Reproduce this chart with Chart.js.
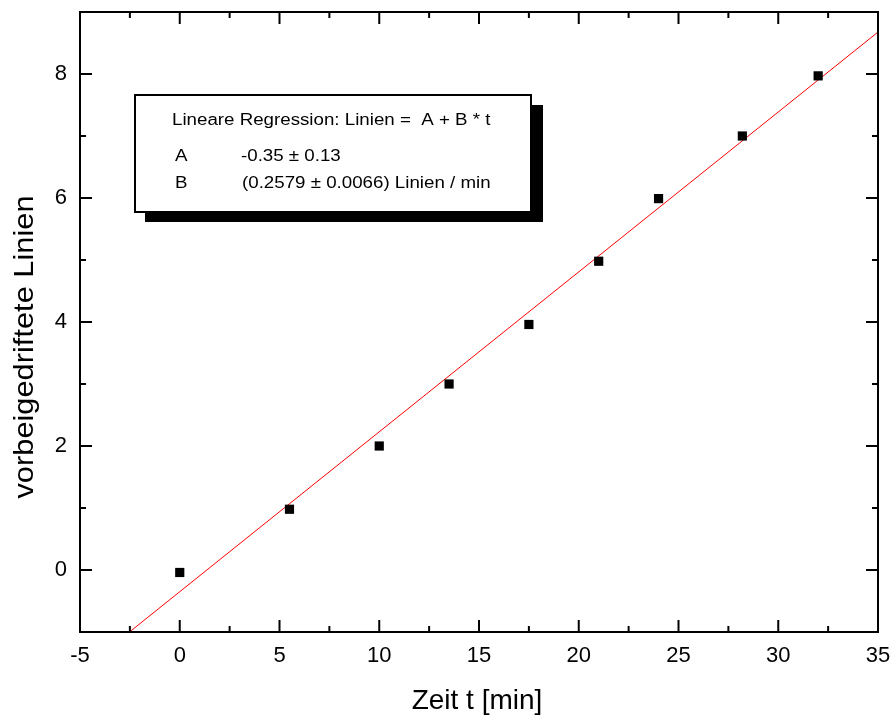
<!DOCTYPE html>
<html>
<head>
<meta charset="utf-8">
<script src="https://cdn.jsdelivr.net/npm/chart.js@4.4.1/dist/chart.umd.min.js"></script>
<style>
  html, body { margin: 0; padding: 0; background: #fff; }
  #wrap { width: 896px; height: 720px; }
</style>
</head>
<body>
<div id="wrap"><canvas id="fitChart"></canvas></div>
<script>
// measured drift: time in minutes vs. number of lines passed
const zeit = [0, 5.5, 10, 13.5, 17.5, 21, 24, 28.2, 32];
const linien = [-0.04, 0.98, 2.0, 3.0, 3.96, 4.98, 5.99, 7.0, 7.97];

// fit result shown in the box
const fitA = -0.35;
const fitB = 0.2579;
const fitRange = [-5, 35];

const xTicks = [-5, 0, 5, 10, 15, 20, 25, 30, 35];
const yTicks = [0, 2, 4, 6, 8];

const boxLines = [
    'Lineare Regression: Linien =  A + B * t',
    ['A', '-0.35 \u00b1 0.13'],
    ['B', '(0.2579 \u00b1 0.0066) Linien / min']
];

const FONT = 'Arial, "Liberation Sans", sans-serif';

// text squeezed/stretched horizontally like the original export
function stretchText(ctx, text, x, y, sx) {
    ctx.save();
    ctx.translate(x, y);
    ctx.scale(sx, 1);
    ctx.fillText(text, 0, 0);
    ctx.restore();
}

// frame, inward ticks on all four sides, axis titles and the fit box
const decorPlugin = {
    id: 'decor',
    afterDatasetsDraw(chart) {
        const { ctx, chartArea: a, scales: { x, y } } = chart;
        ctx.save();
        ctx.strokeStyle = '#000';
        ctx.lineWidth = 2;
        ctx.strokeRect(a.left, a.top, a.right - a.left, a.bottom - a.top);

        const tick = (px, py, dx, dy) => {
            ctx.beginPath();
            ctx.moveTo(px, py);
            ctx.lineTo(px + dx, py + dy);
            ctx.stroke();
        };
        const majorLen = 12, minorLen = 6;
        xTicks.forEach((v, i) => {
            const px = x.getPixelForValue(v);
            tick(px, a.bottom, 0, -majorLen);
            tick(px, a.top, 0, majorLen);
            if (i < xTicks.length - 1) {
                const mx = x.getPixelForValue((v + xTicks[i + 1]) / 2);
                tick(mx, a.bottom, 0, -minorLen);
                tick(mx, a.top, 0, minorLen);
            }
        });
        const yMinor = [];
        yTicks.forEach((v, i) => {
            const py = y.getPixelForValue(v);
            tick(a.left, py, majorLen, 0);
            tick(a.right, py, -majorLen, 0);
            if (i < yTicks.length - 1) yMinor.push((v + yTicks[i + 1]) / 2);
        });
        yMinor.forEach(v => {
            const py = y.getPixelForValue(v);
            tick(a.left, py, minorLen, 0);
            tick(a.right, py, -minorLen, 0);
        });

        // axis titles
        ctx.fillStyle = '#000';
        ctx.font = '28px ' + FONT;
        ctx.textAlign = 'center';
        ctx.textBaseline = 'alphabetic';
        ctx.fillText('Zeit t [min]', (a.left + a.right) / 2 - 2, 709);
        ctx.save();
        ctx.translate(33, 347);
        ctx.rotate(-Math.PI / 2);
        stretchText(ctx, 'vorbeigedriftete Linien', 0, 0, 1.1);
        ctx.restore();

        // fit box with drop shadow
        const bx = a.left + 55, by = a.top + 83, bw = 396, bh = 117;
        ctx.fillStyle = '#000';
        ctx.fillRect(bx + 10, by + 10, bw + 2, bh);
        ctx.fillStyle = '#fff';
        ctx.fillRect(bx, by, bw, bh);
        ctx.lineWidth = 2;
        ctx.strokeRect(bx, by, bw, bh);

        ctx.fillStyle = '#000';
        ctx.font = '16px ' + FONT;
        ctx.textAlign = 'left';
        const sx = 1.17;
        stretchText(ctx, boxLines[0], bx + 37, by + 30, sx);
        stretchText(ctx, boxLines[1][0], bx + 40, by + 66, sx);
        stretchText(ctx, boxLines[1][1], bx + 106, by + 66, sx);
        stretchText(ctx, boxLines[2][0], bx + 40, by + 93, sx);
        stretchText(ctx, boxLines[2][1], bx + 107, by + 93, sx);
        ctx.restore();
    }
};

const noPad = s => {
    s.paddingLeft = 0;
    s.paddingRight = 0;
    s.paddingTop = 0;
    s.paddingBottom = 0;
};

function drawChart() {
    const ctx = document.getElementById('fitChart').getContext('2d');
    new Chart(ctx, {
        type: 'scatter',
        data: {
            datasets: [{
                label: 'Messwerte',
                data: zeit.map((t, i) => ({ x: t, y: linien[i] })),
                pointStyle: 'rect',
                pointRadius: 6.5,
                pointBorderWidth: 0,
                backgroundColor: '#000',
                borderColor: '#000',
                order: 1
            }, {
                label: 'Regression',
                type: 'line',
                data: fitRange.map(t => ({ x: t, y: fitA + fitB * t })),
                borderColor: '#ff0000',
                borderWidth: 1,
                pointRadius: 0,
                fill: false,
                order: 2
            }]
        },
        options: {
            responsive: true,
            maintainAspectRatio: false,
            animation: false,
            layout: { padding: { top: 12, right: 18, left: 0, bottom: 0 } },
            plugins: {
                legend: { display: false },
                tooltip: { enabled: false }
            },
            scales: {
                x: {
                    type: 'linear',
                    min: -5,
                    max: 35,
                    afterBuildTicks: s => { s.ticks = xTicks.map(v => ({ value: v })); },
                    afterFit: s => { s.height = 88; noPad(s); },
                    grid: { display: false, drawTicks: false },
                    border: { display: false },
                    ticks: { color: '#000', font: { family: FONT, size: 22 }, padding: 11, maxRotation: 0 }
                },
                y: {
                    type: 'linear',
                    min: -1,
                    max: 9,
                    afterBuildTicks: s => { s.ticks = yTicks.map(v => ({ value: v })); },
                    afterFit: s => { s.width = 80; noPad(s); },
                    grid: { display: false, drawTicks: false },
                    border: { display: false },
                    ticks: { color: '#000', font: { family: FONT, size: 22 }, padding: 13 }
                }
            }
        },
        plugins: [decorPlugin]
    });
}

document.addEventListener('DOMContentLoaded', () => {
    drawChart();
});
</script>
</body>
</html>
